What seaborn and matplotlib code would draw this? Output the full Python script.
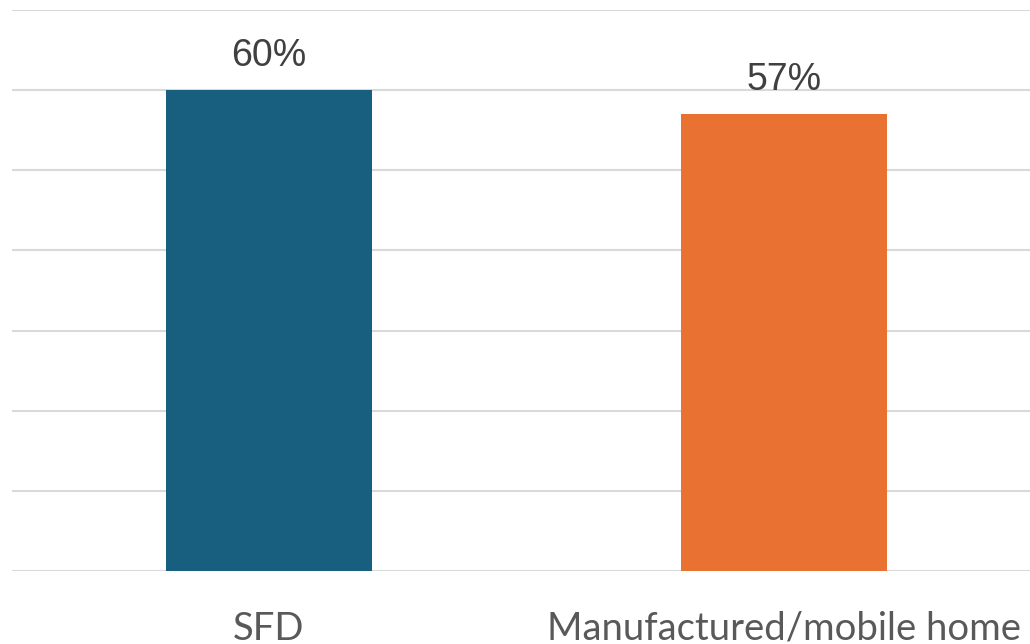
import numpy as np
import pandas as pd
import matplotlib
matplotlib.use("Agg")
import matplotlib.pyplot as plt
import seaborn as sns

categories = ["SFD", "Manufactured/mobile home"]
values = [60, 57]
colors = ["#175E7F", "#E97132"]

df = pd.DataFrame({"cat": categories, "val": values})

sns.set_style("white")
fig = plt.figure(figsize=(10.3, 6.44), dpi=100)
ax = fig.add_axes([0.0112, 0.1134, 1.0, 0.871])

sns.barplot(data=df, x="cat", y="val", hue="cat", palette=colors,
            width=0.4, saturation=1, legend=False, ax=ax, zorder=3,
            linewidth=0)

ax.set_ylim(0, 70)
ax.set_yticks(np.arange(0, 71, 10))
ax.yaxis.grid(True, color="#D9D9D9", linewidth=1.5, zorder=0)
ax.set_axisbelow(True)
ax.tick_params(axis="y", left=False, labelleft=False)
ax.tick_params(axis="x", bottom=False, pad=25, labelsize=27.5, labelcolor="#595959")
for lbl in ax.get_xticklabels():
    lbl.set_fontfamily("Lato")
ax.set_xlabel("")
ax.set_ylabel("")
for s in ax.spines.values():
    s.set_visible(False)

for i, v in enumerate(values):
    ax.annotate(f"{v}%", (i, v), xytext=(0, 12), textcoords="offset points",
                ha="center", va="bottom", fontsize=27, color="#404040",
                family="Liberation Sans")

fig.savefig("out.png", dpi=100)
